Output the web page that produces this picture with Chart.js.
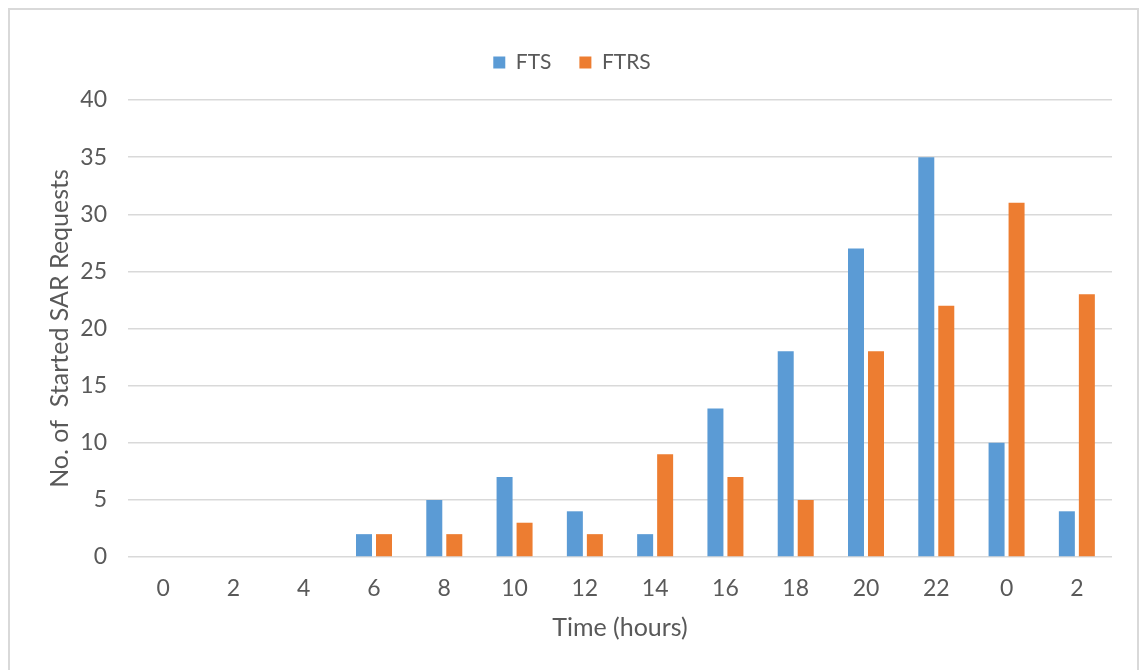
<!DOCTYPE html>
<html>
<head>
<meta charset="utf-8">
<script src="https://cdn.jsdelivr.net/npm/chart.js@4.4.1/dist/chart.umd.min.js"></script>
<style>
  html, body { margin: 0; padding: 0; background: #ffffff; overflow: hidden; }
  #frame {
    position: absolute; left: 8px; top: 8px;
    width: 1131px; height: 700px;
    border: 2px solid #d9d9d9;
    box-sizing: border-box;
  }
  #wrap { position: absolute; left: 0; top: 0; width: 1144px; height: 670px; }
</style>
</head>
<body>
<div id="frame"></div>
<div id="wrap"><canvas id="sarChart" width="1144" height="670"></canvas></div>
<script>
// Started SAR requests per two-hour slot
const timeLabels = ['0', '2', '4', '6', '8', '10', '12', '14', '16', '18', '20', '22', '0', '2'];
const ftsCounts  = [0, 0, 0, 2, 5, 7, 4, 2, 13, 18, 27, 35, 10, 4];
const ftrsCounts = [0, 0, 0, 2, 2, 3, 2, 9, 7, 5, 18, 22, 31, 23];
const yMin = 0, yMax = 40, yStep = 5;

const textColor = '#595959';
const gridColor = '#d9d9d9';
const fontFamily = 'Lato, "Open Sans", sans-serif';

// legend has no afterFit hook, so stretch its box to push the plot area down
const legendHeight = {
  id: 'legendHeight',
  beforeLayout(chart) {
    const lg = chart.legend;
    if (lg && !lg._fixed) {
      const fit = lg.fit.bind(lg);
      lg.fit = function () { fit(); this.height = 76; };
      lg._fixed = true;
    }
  }
};

const config = {
  type: 'bar',
  data: {
    labels: timeLabels,
    datasets: [
      {
        label: 'FTS',
        data: ftsCounts,
        backgroundColor: '#5b9bd5',
        barPercentage: 0.8,
        categoryPercentage: 0.569
      },
      {
        label: 'FTRS',
        data: ftrsCounts,
        backgroundColor: '#ed7d31',
        barPercentage: 0.8,
        categoryPercentage: 0.569
      }
    ]
  },
  options: {
    responsive: false,
    animation: false,
    layout: { padding: { top: 24, left: 32, right: 32, bottom: 0 } },
    plugins: {
      legend: {
        position: 'top',
        labels: {
          color: textColor,
          font: { family: fontFamily, size: 21 },
          boxWidth: 12,
          boxHeight: 12,
          padding: 28
        }
      },
      tooltip: { enabled: false }
    },
    scales: {
      x: {
        grid: { display: false },
        border: { display: false },
        ticks: {
          color: textColor,
          font: { family: fontFamily, size: 23 },
          padding: 10
        },
        title: {
          display: true,
          text: 'Time (hours)',
          color: textColor,
          font: { family: fontFamily, size: 25 },
          padding: { top: 0, bottom: 27 }
        },
        afterFit: scale => { scale.height = 113; }
      },
      y: {
        min: yMin,
        max: yMax,
        grid: { color: gridColor, lineWidth: 1.5, drawTicks: false },
        border: { display: false },
        ticks: {
          stepSize: yStep,
          color: textColor,
          font: { family: fontFamily, size: 23 },
          padding: 21
        },
        title: {
          display: true,
          text: 'No. of  Started SAR Requests',
          color: textColor,
          font: { family: fontFamily, size: 25 },
          padding: { top: 13, bottom: 0 }
        },
        afterFit: scale => { scale.width = 96; }
      }
    }
  },
  plugins: [legendHeight]
};

new Chart(document.getElementById('sarChart'), config);
</script>
</body>
</html>
